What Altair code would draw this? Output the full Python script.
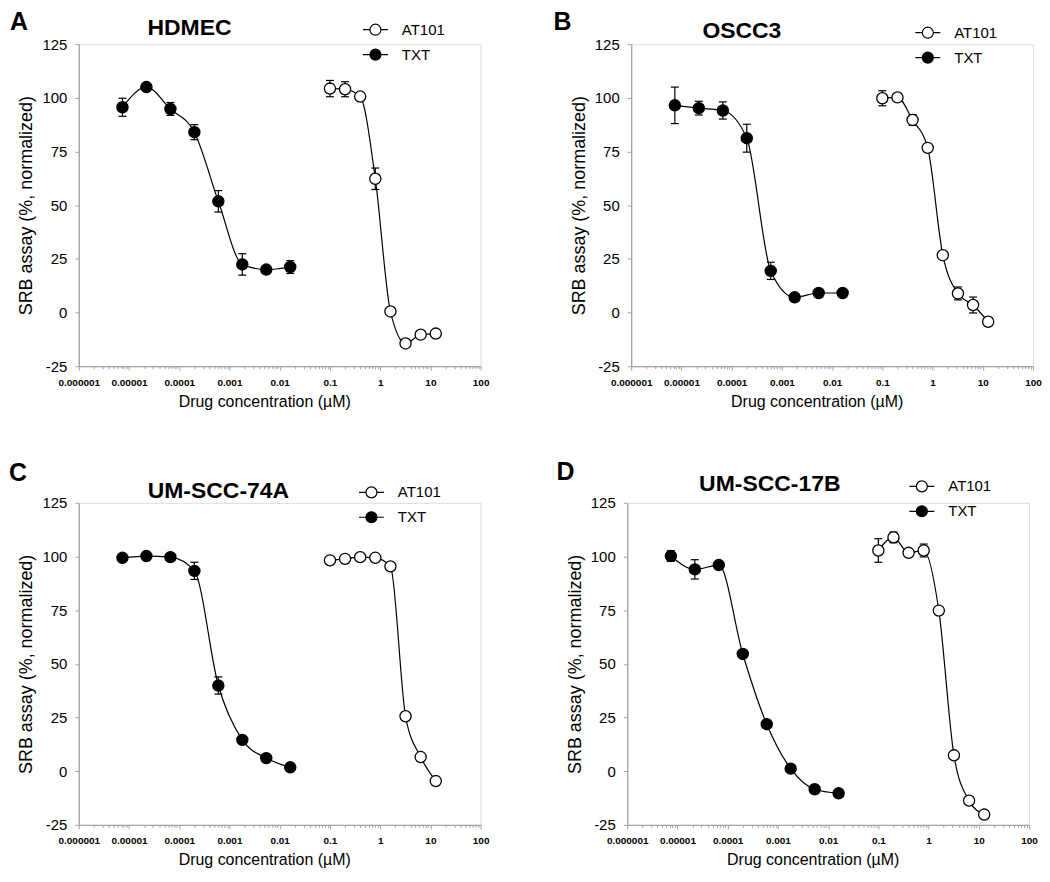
import altair as alt
import pandas as pd

# ---------------- data ----------------
AT101_CONC = [0.1, 0.2, 0.4, 0.8, 1.6, 3.2, 6.4, 12.8]
TXT_CONC = [0.0000074, 0.0000222, 0.0000667, 0.0002, 0.0006, 0.0018, 0.0054, 0.0162]

PANEL_LETTERS = ["A", "B", "C", "D"]
CELL_LINES = ["HDMEC", "OSCC3", "UM-SCC-74A", "UM-SCC-17B"]
SERIES = ["AT101", "TXT"]

A_TXT = [95.6, 105.0, 94.8, 84.0, 51.8, 22.4, 20.0, 21.2]
A_TXT_ERR = [4.2, 1.5, 3.0, 3.5, 5.0, 5.0, 1.5, 3.0]
A_AT = [104.3, 104.0, 100.6, 62.3, 0.5, -14.4, -10.3, -9.8]
A_AT_ERR = [3.8, 3.5, 1.0, 5.0, 1.0, 1.0, 1.0, 1.0]

B_TXT = [96.5, 95.2, 94.1, 81.2, 19.4, 7.1, 9.1, 9.1]
B_TXT_ERR = [8.5, 3.2, 4.0, 6.5, 4.0, 1.0, 1.0, 1.0]
B_AT = [99.8, 100.2, 89.7, 76.7, 26.7, 8.9, 3.5, -4.3]
B_AT_ERR = [3.5, 1.0, 2.5, 1.0, 1.0, 3.0, 3.7, 1.0]

C_TXT = [99.4, 100.2, 99.7, 93.3, 39.9, 14.6, 6.1, 1.8]
C_TXT_ERR = [1.0, 1.0, 1.0, 4.0, 4.0, 1.0, 1.0, 1.0]
C_AT = [98.2, 98.9, 99.7, 99.4, 95.4, 25.6, 6.6, -4.6]
C_AT_ERR = [1.0, 1.0, 1.0, 1.0, 1.0, 1.0, 1.0, 1.0]

D_TXT = [100.2, 94.0, 96.0, 54.6, 21.9, 1.2, -8.4, -10.3]
D_TXT_ERR = [2.5, 4.5, 1.0, 1.0, 1.0, 1.0, 1.0, 1.0]
D_AT = [102.8, 108.9, 101.7, 102.8, 74.8, 7.4, -13.7, -20.2]
D_AT_ERR = [5.5, 2.5, 1.5, 3.0, 1.0, 1.0, 1.0, 1.0]

X_LABELS = ["0.000001", "0.00001", "0.0001", "0.001", "0.01", "0.1", "1", "10", "100"]
Y_TICKS = [-25, 0, 25, 50, 75, 100, 125]

PANEL_DATA = [
    (A_AT, A_AT_ERR, A_TXT, A_TXT_ERR),
    (B_AT, B_AT_ERR, B_TXT, B_TXT_ERR),
    (C_AT, C_AT_ERR, C_TXT, C_TXT_ERR),
    (D_AT, D_AT_ERR, D_TXT, D_TXT_ERR),
]

# ---------------- layout / style ----------------
W, H = 403, 323
FONT = "Liberation Sans"
AXIS_GRAY = "#a3a3a3"
# per-panel placement of title, legend and panel letter (relative to plot area)
TITLE_POS = [(111, -16), (111, -13), (140, -12), (143, -19)]
LEGEND_POS = [(284, -28), (284, -25), (280, -24), (282, -30)]
LETTER_POS = [(-69, -22), (-78, -22), (-70, -30), (-71, -31)]

XTICKS = [m * 10.0 ** e for e in range(-6, 2) for m in range(1, 10)] + [100.0]
DEC_TEST = "abs(log(datum.value)/LN10 - round(log(datum.value)/LN10)) < 0.000001"
LABEL_ARR = "[" + ",".join('"%s"' % s for s in X_LABELS) + "]"
LABEL_EXPR = "(%s) ? %s[round(log(datum.value)/LN10) + 6] : ''" % (DEC_TEST, LABEL_ARR)
Y_LABEL_EXPR = "datum.value < 0 ? '-' + abs(datum.value) : '' + datum.value"

LEGEND_SYMBOL = "M-1,0H-0.44M0.44,0H1M-0.44,0A0.44,0.44,0,1,1,0.44,0A0.44,0.44,0,1,1,-0.44,0Z"

x_scale = alt.Scale(type="log", domain=[0.000001, 100])
y_scale = alt.Scale(domain=[-25, 125], nice=False, zero=False)

x_axis = alt.Axis(
    values=XTICKS,
    labelExpr=LABEL_EXPR,
    labelOverlap=False,
    labelFlush=False,
    tickSize={"condition": {"test": DEC_TEST, "value": 4}, "value": 2.5},
    tickColor=AXIS_GRAY,
    domainColor=AXIS_GRAY,
    domainWidth=1.3,
    tickWidth=1,
    grid=False,
    labelFont=FONT,
    labelFontWeight="bold",
    labelFontSize=10,
    labelColor="black",
    labelPadding=7,
    title="Drug concentration (µM)",
    titleFont=FONT,
    titleFontSize=16,
    titleFontWeight="normal",
    titleColor="black",
    titlePadding=6,
    titleX=186,
)

y_axis = alt.Axis(
    values=Y_TICKS,
    labelExpr=Y_LABEL_EXPR,
    tickSize=4,
    tickColor=AXIS_GRAY,
    domainColor=AXIS_GRAY,
    domainWidth=1.3,
    grid=False,
    labelFont=FONT,
    labelFontSize=15,
    labelColor="black",
    labelPadding=8,
    title="SRB assay (%, normalized)",
    titleFont=FONT,
    titleFontSize=18,
    titleFontWeight="normal",
    titleColor="black",
    titlePadding=6,
)


def X(field):
    return alt.X(field, type="quantitative", scale=x_scale, axis=x_axis)


def Y(field):
    return alt.Y(field, type="quantitative", scale=y_scale, axis=y_axis)


def make_panel(i):
    at, at_err, txt, txt_err = PANEL_DATA[i]
    rows = []
    for series, conc, vals, errs in (("AT101", AT101_CONC, at, at_err), ("TXT", TXT_CONC, txt, txt_err)):
        for c, v, e in zip(conc, vals, errs):
            rows.append({"series": series, "conc": c, "value": v, "lo": v - e, "hi": v + e})
    df = pd.DataFrame(rows)
    base = alt.Chart(df)

    line = base.mark_line(interpolate="monotone", color="black", strokeWidth=1.2).encode(
        x=X("conc"), y=Y("value"), detail="series:N"
    )
    rule = base.mark_rule(color="black", strokeWidth=1.2).encode(x=X("conc"), y=Y("lo"), y2="hi:Q")
    cap_lo = base.mark_tick(orient="horizontal", size=8, thickness=1.2, color="black", opacity=1).encode(
        x=X("conc"), y=Y("lo")
    )
    cap_hi = base.mark_tick(orient="horizontal", size=8, thickness=1.2, color="black", opacity=1).encode(
        x=X("conc"), y=Y("hi")
    )
    lx, ly = LEGEND_POS[i]
    pts = base.mark_point(shape="circle", filled=True, size=125, stroke="black", strokeWidth=1.3, opacity=1).encode(
        x=X("conc"),
        y=Y("value"),
        fill=alt.Fill(
            "series:N",
            scale=alt.Scale(domain=SERIES, range=["white", "black"]),
            legend=alt.Legend(
                title=None,
                orient="none",
                legendX=lx,
                legendY=ly,
                symbolType=LEGEND_SYMBOL,
                symbolSize=625,
                symbolStrokeColor="black",
                symbolStrokeWidth=1.2,
                symbolOpacity=1,
                labelFont=FONT,
                labelFontSize=15,
                labelColor="black",
                labelOffset=13,
                rowPadding=3,
                padding=0,
            ),
        ),
    )
    tx, ty = LETTER_POS[i]
    letter = alt.Chart(pd.DataFrame({"t": [PANEL_LETTERS[i]]})).mark_text(
        font=FONT, fontSize=25, fontWeight="bold", align="left", baseline="middle", color="black"
    ).encode(text="t:N", x=alt.value(tx), y=alt.value(ty))

    ttx, tty = TITLE_POS[i]
    title = alt.Chart(pd.DataFrame({"t": [CELL_LINES[i]]})).mark_text(
        font=FONT, fontSize=23, fontWeight="bold", align="center", baseline="middle", color="black"
    ).encode(text="t:N", x=alt.value(ttx), y=alt.value(tty))

    return alt.layer(line, rule, cap_lo, cap_hi, pts, letter, title).properties(width=W, height=H)


row1 = alt.hconcat(make_panel(0), make_panel(1), spacing=63).resolve_scale(fill="independent").resolve_legend(fill="independent")
row2 = alt.hconcat(make_panel(2), make_panel(3), spacing=66).resolve_scale(fill="independent").resolve_legend(fill="independent")

chart = (
    alt.vconcat(row1, row2, spacing=49)
    .resolve_scale(fill="independent")
    .resolve_legend(fill="independent")
    .properties(padding=0)
    .configure_view(stroke=None)
    .configure(background="white")
)

chart.save("out.html", embed_options={"renderer": "svg", "actions": False})
